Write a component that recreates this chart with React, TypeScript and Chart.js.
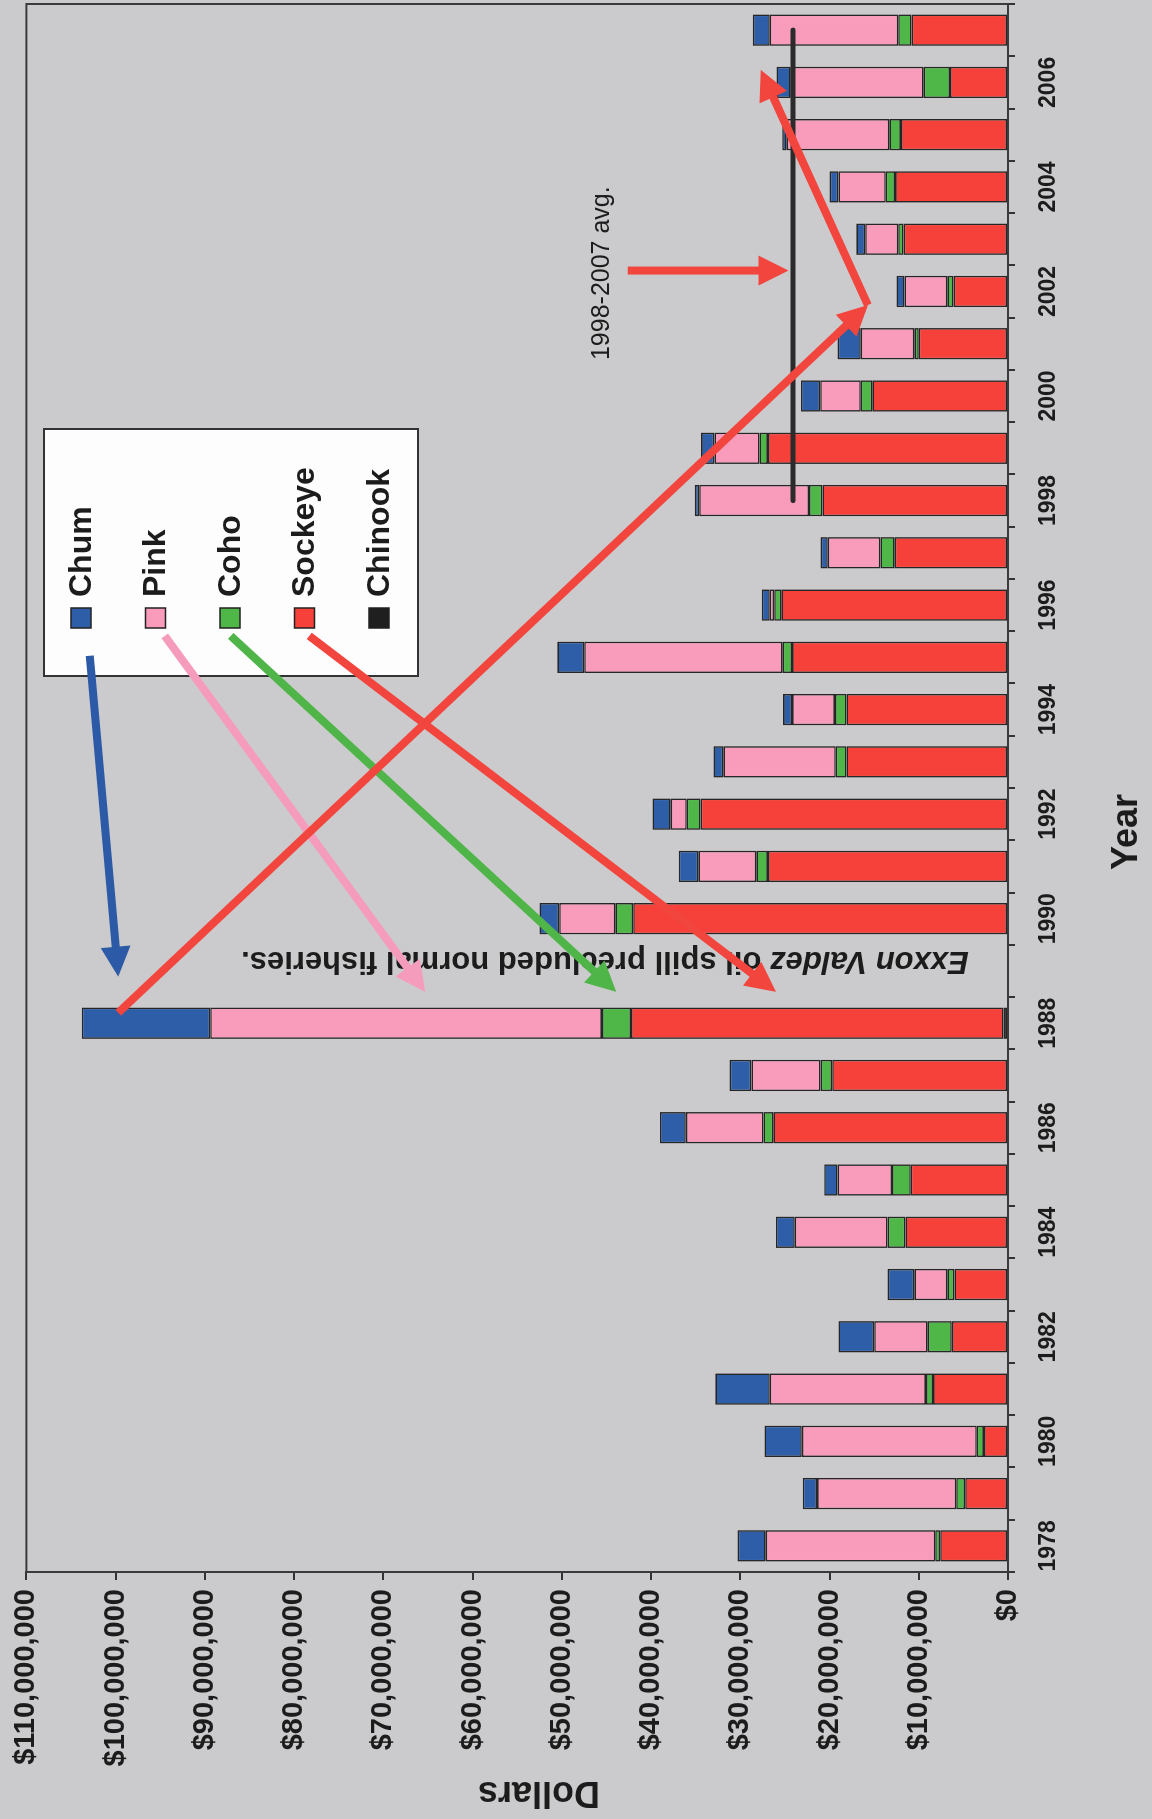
import React, { useEffect, useRef } from "react";
import { Chart, registerables } from "chart.js";

Chart.register(...registerables);

// ---------- data (values in millions of dollars) ----------
const YEARS = [
  "1978", "1979", "1980", "1981", "1982", "1983", "1984", "1985", "1986", "1987",
  "1988", "1989", "1990", "1991", "1992", "1993", "1994", "1995", "1996", "1997",
  "1998", "1999", "2000", "2001", "2002", "2003", "2004", "2005", "2006", "2007",
];

const CHINOOK = [
  0, 0, 0, 0, 0, 0, 0, 0, 0, 0,
  0.5, 0, 0, 0, 0, 0, 0, 0, 0, 0,
  0, 0, 0, 0, 0, 0, 0, 0, 0, 0,
];
const SOCKEYE = [
  7.6, 4.8, 2.7, 8.4, 6.3, 6.0, 11.5, 10.9, 26.3, 19.7,
  41.75, 0, 42.0, 26.9, 34.45, 18.1, 18.1, 24.2, 25.4, 12.7,
  20.8, 26.9, 15.2, 10.0, 6.1, 11.7, 12.65, 12.0, 6.5, 10.8,
];
const COHO = [
  0.55, 1.0, 0.8, 0.8, 2.7, 0.8, 2.0, 2.1, 1.1, 1.3,
  3.25, 0, 2.0, 1.3, 1.55, 1.2, 1.3, 1.05, 0.8, 1.6,
  1.5, 0.95, 1.3, 0.5, 0.7, 0.6, 1.05, 1.3, 2.95, 1.5,
];
const PINK = [
  19.0, 15.6, 19.6, 17.5, 6.0, 3.7, 10.4, 6.1, 8.7, 7.75,
  43.9, 0, 6.3, 6.5, 1.8, 12.6, 4.8, 22.25, 0.5, 5.9,
  12.3, 5.05, 4.55, 6.0, 4.8, 3.7, 5.3, 11.5, 14.9, 14.4,
];
const CHUM = [
  3.15, 1.6, 4.2, 6.1, 4.0, 3.0, 2.1, 1.5, 2.9, 2.45,
  14.4, 0, 2.2, 2.2, 2.05, 1.1, 1.0, 3.0, 0.9, 0.8,
  0.5, 1.5, 2.15, 2.6, 0.9, 1.0, 1.0, 0.5, 1.6, 1.9,
];
const AVG_LINE = [
  null, null, null, null, null, null, null, null, null, null,
  null, null, null, null, null, null, null, null, null, null,
  24.1, 24.1, 24.1, 24.1, 24.1, 24.1, 24.1, 24.1, 24.1, 24.1,
];

const Y_MAX = 110;
const Y_STEP = 10;

// annotation arrows: [year, value(M)] -> [year, value(M)]
const ARROWS = [
  { from: [1995.03, 102.9], to: [1988.89, 99.7], color: "#2d5aa6" },
  { from: [1995.41, 94.5], to: [1988.6, 65.3], color: "#f59bbb" },
  { from: [1995.41, 87.1], to: [1988.6, 43.9], color: "#50b548" },
  { from: [1995.41, 78.3], to: [1988.6, 26.0], color: "#f2453d" },
  { from: [1988.2, 99.7], to: [2001.74, 15.7], color: "#f2453d" },
  { from: [2001.74, 15.7], to: [2006.24, 27.7], color: "#f2453d" },
  { from: [2002.4, 42.6], to: [2002.4, 24.6], color: "#f2453d" },
];

const SPILL_NOTE_ITALIC = "Exxon Valdez";
const SPILL_NOTE_REST = " oil spill precluded normal fisheries.";
const SPILL_NOTE_AT = [1989.2, 4.4];
const AVG_NOTE = "1998-2007 avg.";
const AVG_NOTE_AT = [2002.35, 45.5];
const X_TITLE = "Year";
const Y_TITLE = "Dollars";

const FONT = '"Liberation Sans", Arial, Helvetica, sans-serif';
const BG = "#cbcbcd";
const INK = "#1c1c1c";

const COLORS: Record<string, string> = {
  Chinook: "#1f1f1f",
  Sockeye: "#f5413a",
  Coho: "#4fb748",
  Pink: "#f99bbb",
  Chum: "#2e5ea8",
};

const overlay = {
  id: "overlay",
  beforeDatasetsDraw(chart: any) {
    const { ctx, chartArea: a } = chart;
    ctx.save();
    ctx.strokeStyle = "#3a3a3a";
    ctx.lineWidth = 2;
    ctx.strokeRect(a.left, a.top, a.right - a.left, a.bottom - a.top);
    ctx.restore();
  },
  afterDraw(chart: any) {
    const { ctx } = chart;
    const xs = chart.scales.x;
    const ys = chart.scales.y;
    const px = (yr: number) => xs.getPixelForValue(yr - Number(YEARS[0]));
    const py = (v: number) => ys.getPixelForValue(v);

    // axis titles
    ctx.save();
    ctx.fillStyle = INK;
    ctx.font = `bold 36px ${FONT}`;
    ctx.textAlign = "center";
    ctx.textBaseline = "middle";
    ctx.fillText(X_TITLE, 987, 1127);
    ctx.translate(27, 539);
    ctx.rotate(-Math.PI / 2);
    ctx.fillText(Y_TITLE, 0, 0);
    ctx.restore();

    // legend box
    const L = { left: 1143, top: 44, w: 247, h: 374 };
    ctx.save();
    ctx.fillStyle = "#fdfdfd";
    ctx.strokeStyle = "#333";
    ctx.lineWidth = 2;
    ctx.fillRect(L.left, L.top, L.w, L.h);
    ctx.strokeRect(L.left, L.top, L.w, L.h);
    const bars = chart.data.datasets.filter((d: any) => d.type === "bar").slice().reverse();
    bars.forEach((d: any, i: number) => {
      const cy = L.top + 37 + i * 74.5;
      ctx.fillStyle = d.backgroundColor;
      ctx.fillRect(L.left + 48, cy - 10, 20, 20);
      ctx.strokeStyle = "#222";
      ctx.lineWidth = 1.5;
      ctx.strokeRect(L.left + 48, cy - 10, 20, 20);
      ctx.fillStyle = INK;
      ctx.font = `bold 32px ${FONT}`;
      ctx.textAlign = "left";
      ctx.textBaseline = "middle";
      ctx.fillText(d.label, L.left + 79, cy + 1);
    });
    ctx.restore();

    // spill note (vertical)
    ctx.save();
    ctx.translate(px(SPILL_NOTE_AT[0]), py(SPILL_NOTE_AT[1]));
    ctx.rotate(-Math.PI / 2);
    ctx.fillStyle = INK;
    ctx.textAlign = "left";
    ctx.textBaseline = "middle";
    ctx.font = `italic bold 31px ${FONT}`;
    ctx.fillText(SPILL_NOTE_ITALIC, 0, 0);
    const w = ctx.measureText(SPILL_NOTE_ITALIC).width;
    ctx.font = `bold 31px ${FONT}`;
    ctx.fillText(SPILL_NOTE_REST, w, 0);
    ctx.restore();

    // avg note
    ctx.save();
    ctx.fillStyle = INK;
    ctx.font = `25px ${FONT}`;
    ctx.textAlign = "center";
    ctx.textBaseline = "middle";
    ctx.fillText(AVG_NOTE, px(AVG_NOTE_AT[0]), py(AVG_NOTE_AT[1]));
    ctx.restore();

    // arrows
    ARROWS.forEach((a) => {
      const x1 = px(a.from[0]);
      const y1 = py(a.from[1]);
      const x2 = px(a.to[0]);
      const y2 = py(a.to[1]);
      const ang = Math.atan2(y2 - y1, x2 - x1);
      const head = 30;
      const half = 15;
      const bx = x2 - head * Math.cos(ang);
      const by = y2 - head * Math.sin(ang);
      ctx.save();
      ctx.strokeStyle = a.color;
      ctx.fillStyle = a.color;
      ctx.lineWidth = 8;
      ctx.lineCap = "butt";
      ctx.beginPath();
      ctx.moveTo(x1, y1);
      ctx.lineTo(bx + 3 * Math.cos(ang), by + 3 * Math.sin(ang));
      ctx.stroke();
      ctx.beginPath();
      ctx.moveTo(x2, y2);
      ctx.lineTo(bx + half * Math.sin(ang), by - half * Math.cos(ang));
      ctx.lineTo(bx - half * Math.sin(ang), by + half * Math.cos(ang));
      ctx.closePath();
      ctx.fill();
      ctx.restore();
    });
  },
};

function barSet(label: string, data: number[]) {
  return {
    type: "bar" as const,
    label,
    data,
    backgroundColor: COLORS[label],
    borderColor: "#262626",
    borderWidth: (c: any) => (c.raw ? 1.6 : 0),
    borderSkipped: false,
    barPercentage: 0.6,
    categoryPercentage: 1,
    stack: "fish",
    order: 1,
  };
}

export default function App() {
  const ref = useRef<HTMLCanvasElement>(null);

  useEffect(() => {
    const canvas = ref.current;
    if (!canvas) return;
    const chart = new Chart(canvas, {
      type: "bar",
      data: {
        labels: YEARS,
        datasets: [
          barSet("Chinook", CHINOOK),
          barSet("Sockeye", SOCKEYE),
          barSet("Coho", COHO),
          barSet("Pink", PINK),
          barSet("Chum", CHUM),
          {
            type: "line" as const,
            label: AVG_NOTE,
            data: AVG_LINE,
            borderColor: "#2b2b2b",
            borderWidth: 5,
            borderCapStyle: "round",
            pointRadius: 0,
            stack: "avg",
            order: 0,
          } as any,
        ],
      },
      options: {
        responsive: false,
        animation: false,
        devicePixelRatio: 1,
        layout: { padding: { top: 23, right: 4, left: 0, bottom: 0 } },
        plugins: {
          legend: { display: false },
          tooltip: { enabled: false },
        },
        scales: {
          x: {
            stacked: true,
            grid: {
              drawOnChartArea: false,
              drawTicks: true,
              tickLength: 7,
              color: "#333",
              lineWidth: 2,
              offset: true,
            },
            border: { display: true, color: "#333", width: 2 },
            ticks: {
              autoSkip: false,
              maxRotation: 0,
              minRotation: 0,
              padding: 20,
              color: INK,
              font: { family: FONT, size: 23, weight: "bold" },
              callback: (_v: any, i: number) => (i % 2 === 0 ? YEARS[i] : ""),
            },
            title: { display: false },
            afterFit: (s: any) => {
              s.height = 144;
            },
          },
          y: {
            stacked: true,
            min: 0,
            max: Y_MAX,
            grid: {
              drawOnChartArea: false,
              drawTicks: true,
              tickLength: 8,
              color: "#333",
              lineWidth: 2,
            },
            border: { display: true, color: "#333", width: 2 },
            ticks: {
              stepSize: Y_STEP,
              padding: 9,
              color: INK,
              font: { family: FONT, size: 29, weight: "bold" },
              callback: (v: any) => "$" + (Number(v) * 1e6).toLocaleString("en-US"),
            },
            title: { display: false },
            afterFit: (s: any) => {
              s.width = 247;
            },
          },
        },
      } as any,
      plugins: [overlay],
    });
    return () => chart.destroy();
  }, []);

  return (
    <div
      style={{
        position: "absolute",
        left: 0,
        top: 0,
        width: 1152,
        height: 1819,
        overflow: "hidden",
        background: BG,
      }}
    >
      <div
        style={{
          position: "absolute",
          left: 0,
          top: 0,
          width: 1819,
          height: 1152,
          transformOrigin: "0 0",
          transform: "translateY(1819px) rotate(-90deg)",
        }}
      >
        <canvas
          ref={ref}
          width={1819}
          height={1152}
          style={{ display: "block", width: 1819, height: 1152 }}
        />
      </div>
    </div>
  );
}
